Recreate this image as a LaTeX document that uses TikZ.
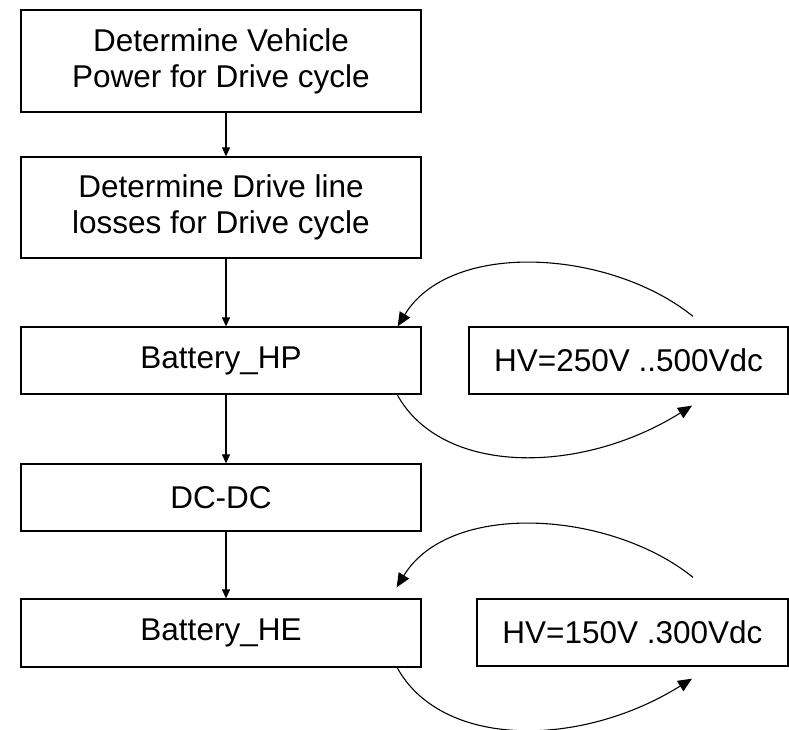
\documentclass[tikz,border=0pt]{standalone}
\usepackage{fontspec}
\setmainfont{Liberation Sans}
\usetikzlibrary{arrows.meta}
\begin{document}
\begin{tikzpicture}[x=1pt,y=-1pt,
  boxstyle/.style={draw,line width=1.3pt,inner sep=0pt,align=center,
    font=\fontsize{31.5}{36}\selectfont},
  vline/.style={line width=1.1pt,-{Triangle[length=9pt,width=8pt]}},
  cline/.style={line width=1.1pt,-{Triangle[length=14pt,width=12pt]}}]
\useasboundingbox (0,0) rectangle (789,729);
\node[boxstyle,minimum width=400,minimum height=102] (b1) at (221,61)
  {Determine Vehicle\\Power for Drive cycle};
\node[boxstyle,minimum width=400,minimum height=101] (b2) at (221,207.5)
  {Determine Drive line\\losses for Drive cycle};
\node[boxstyle,minimum width=400,minimum height=67] (bp) at (221,360.5) {Battery\_HP};
\node[boxstyle,minimum width=400,minimum height=67] (dc) at (221,497.5) {DC-DC};
\node[boxstyle,minimum width=400,minimum height=68] (be) at (221,633) {Battery\_HE};
\node[boxstyle,minimum width=319,minimum height=67] (hv1) at (628.5,360.5) {HV=250V ..500Vdc};
\node[boxstyle,minimum width=311,minimum height=67] (hv2) at (632.5,632.5) {HV=150V .300Vdc};
\draw[vline] ([xshift=5]b1.south) -- ([xshift=5]b2.north);
\draw[vline] ([xshift=5]b2.south) -- ([xshift=5]bp.north);
\draw[vline] ([xshift=5]bp.south) -- ([xshift=5]dc.north);
\draw[vline] ([xshift=5]dc.south) -- ([xshift=5]be.north);
\draw[cline] ([shift={(64.5,-10)}]hv1.north) .. controls +(-83,-67) and +(53,-87) .. ([shift={(-24,0)}]bp.north east);
\draw[cline] ([shift={(-25,-1)}]bp.south east) .. controls +(44,82) and +(-112,70) .. ([shift={(63.5,11)}]hv1.south);
\draw[cline] ([shift={(60.5,-21)}]hv2.north) .. controls +(-83,-67) and +(53,-87) .. ([shift={(-25,-11)}]be.north east);
\draw[cline] ([shift={(-25,-1)}]be.south east) .. controls +(44,82) and +(-112,70) .. ([shift={(59.5,12)}]hv2.south);
\end{tikzpicture}
\end{document}
